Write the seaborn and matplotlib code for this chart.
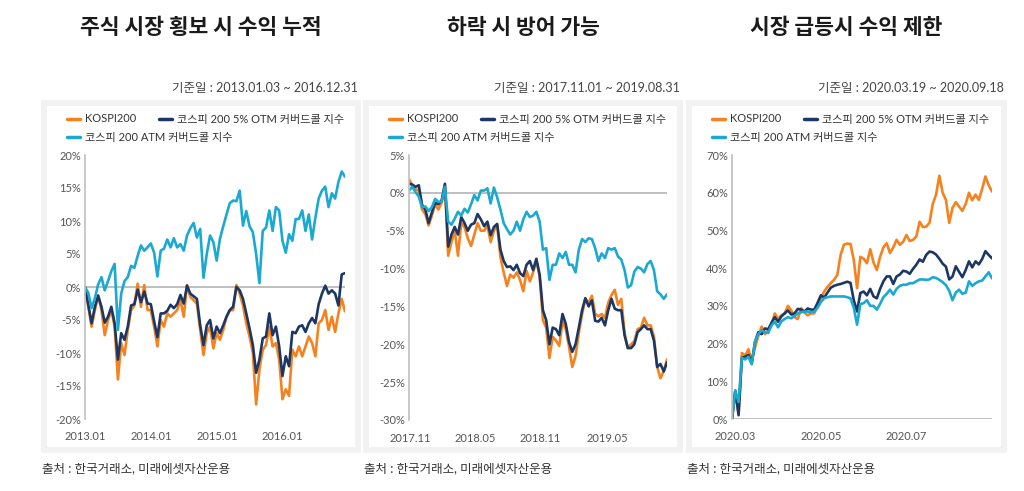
"""Covered call index vs KOSPI200 - three market regimes."""

import matplotlib.pyplot as plt
import numpy as np
import pandas as pd
import seaborn as sns
from matplotlib.lines import Line2D
from matplotlib.patches import Rectangle
from matplotlib.ticker import FuncFormatter

# ---- data (cumulative return, %) ----
series_names = ["KOSPI200", "코스피 200 5% OTM 커버드콜 지수", "코스피 200 ATM 커버드콜 지수"]

p1_kospi = [0, -3.0, -6.0, -3.5, -1.3, -3.5, -7.3, -5.0, -3.5, -6.0,
            -14.0, -8.5, -10.3, -6.5, -3.5, -2.8, 0.5, -3.0, 0.3, -3.5,
            -3.5, -6.0, -9.0, -5.0, -6.0, -4.0, -4.5, -4.0, -3.5, -2.0,
            -4.5, 0.3, -1.5, -2.0, -2.5, -6.5, -10.3, -7.0, -6.0, -9.3,
            -7.0, -8.0, -6.5, -4.5, -3.5, -3.5, 0.3, -1.0, -2.8, -5.5,
            -7.5, -10.0, -17.8, -12.5, -9.5, -8.8, -6.0, -9.0, -8.5, -11.0,
            -17.0, -15.5, -16.5, -9.5, -10.5, -9.0, -10.5, -9.0, -7.5, -8.5,
            -10.5, -5.5, -5.0, -3.5, -6.5, -4.5, -6.8, -4.0, -1.8, -3.7]
p1_otm = [0, -2.7, -5.5, -3.0, -1.3, -3.0, -5.4, -4.5, -3.0, -5.5,
          -11.0, -7.0, -8.0, -6.0, -2.8, -2.6, -0.4, -2.3, -0.7, -2.5,
          -2.6, -5.2, -7.6, -4.0, -4.0, -3.6, -2.7, -3.2, -2.6, -1.2,
          -2.5, 0.2, -1.0, -1.4, -1.8, -5.8, -8.8, -5.8, -5.0, -7.8,
          -6.0, -7.0, -5.8, -4.5, -3.5, -3.0, 0.0, -0.5, -1.8, -4.0,
          -6.3, -8.8, -13.0, -11.0, -7.8, -7.5, -4.0, -7.3, -6.0, -9.0,
          -13.5, -10.5, -12.0, -6.8, -7.0, -6.0, -5.8, -6.8, -5.5, -4.7,
          -5.5, -2.6, -1.0, 0.2, -1.0, -0.5, -1.0, -2.8, 1.9, 2.1]
p1_atm = [0, -0.9, -3.2, -1.7, 0.4, 1.5, -0.5, 0.9, 2.4, 3.5,
          -6.5, -1.0, 0.9, 1.5, 3.2, 2.9, 4.7, 6.3, 5.5, 6.0,
          6.6, 5.2, 1.6, 5.5, 5.8, 7.2, 6.0, 7.4, 6.0, 6.5,
          5.5, 7.8, 8.9, 9.7, 7.5, 8.8, 1.4, 5.0, 7.8, 6.8,
          4.0, 7.3, 9.2, 11.0, 12.7, 13.1, 13.0, 14.6, 9.3, 11.5,
          9.2, 8.3, 5.0, 0.6, 8.5, 9.0, 11.6, 8.5, 12.1, 11.6,
          7.0, 5.2, 8.0, 7.0, 10.3, 10.3, 11.6, 8.5, 11.0, 7.2,
          10.5, 13.4, 14.6, 15.2, 12.1, 14.2, 13.4, 15.9, 17.5, 16.7]

p2_kospi = [1.8, 1.0, 0.5, 0.3, -2.2, -2.8, -4.3, -3.0, -1.5, -2.2,
            -1.3, 1.0, -8.3, -6.5, -5.0, -8.3, -4.0, -4.5, -6.0, -7.0,
            -5.5, -4.0, -5.0, -5.0, -4.3, -6.5, -5.0, -4.3, -8.5, -10.5,
            -12.3, -10.8, -11.2, -10.5, -11.5, -13.0, -10.3, -11.7, -10.5, -9.0,
            -11.0, -16.8, -17.8, -21.8, -19.0, -19.5, -20.2, -17.0, -18.0, -20.3,
            -23.0, -21.5, -18.5, -16.0, -14.0, -14.5, -13.6, -16.0, -16.3, -16.0,
            -16.5, -14.5, -13.5, -12.8, -14.8, -14.0, -18.5, -20.5, -20.0, -19.6,
            -18.0, -17.8, -16.5, -17.5, -17.5, -19.0, -23.0, -24.5, -23.5, -22.0]
p2_otm = [1.2, 1.1, 0.8, 1.0, -1.6, -2.2, -4.0, -2.6, -1.3, -1.5,
          -1.0, 1.2, -7.1, -5.5, -4.5, -5.5, -3.2, -4.0, -5.0, -4.2,
          -4.0, -2.8, -3.5, -4.4, -3.8, -5.6, -4.5, -4.1, -7.5, -9.0,
          -9.8, -9.7, -10.2, -9.5, -10.6, -11.0, -9.5, -9.0, -10.2, -8.7,
          -10.8, -15.5, -16.8, -20.0, -17.8, -18.0, -18.8, -16.0, -17.3, -19.7,
          -21.0, -20.0, -17.8, -15.5, -13.9, -15.0, -14.2, -16.9, -17.0, -16.5,
          -17.5, -15.5, -14.0, -15.3, -15.5, -15.5, -18.8, -20.5, -20.5, -20.0,
          -18.4, -18.0, -17.5, -18.0, -18.0, -19.5, -23.0, -22.6, -23.6, -22.4]
p2_atm = [0.3, 0.8, 0.1, -0.5, -1.9, -1.8, -2.4, -1.9, -0.8, -1.2,
          -1.2, 0.8, -3.8, -4.2, -3.4, -2.5, -3.0, -2.1, -2.6, -1.5,
          -0.3, -1.0, 0.3, 0.3, 0.6, -1.4, 0.7, -0.6, -2.2, -4.0,
          -4.8, -5.5, -5.0, -3.8, -5.0, -3.5, -2.5, -3.2, -3.0, -2.5,
          -3.8, -7.5, -7.3, -11.5, -9.5, -9.5, -8.0, -8.6, -7.8, -9.5,
          -9.5, -10.5, -7.5, -6.1, -6.5, -6.0, -6.1, -7.3, -9.0, -8.0,
          -8.6, -7.3, -7.5, -7.3, -8.4, -8.8, -10.2, -12.5, -12.2, -10.4,
          -9.8, -10.0, -10.5, -9.4, -9.0, -10.2, -13.0, -13.4, -14.0, -13.4]

p3_kospi = [0, 7.5, 1.5, 17.5, 16.8, 18.5, 15.5, 19.0, 22.0, 24.5,
            22.5, 23.5, 25.0, 28.0, 26.5, 27.5, 28.0, 30.0, 28.8, 27.0,
            26.5, 29.4, 28.2, 27.5, 28.0, 28.0, 30.0, 32.0, 33.8, 35.0,
            36.0, 36.9, 38.2, 43.5, 46.2, 46.5, 46.4, 42.2, 34.7, 43.0,
            42.5, 41.3, 45.0, 41.5, 39.5, 43.0, 45.5, 46.6, 44.0, 45.5,
            47.5, 46.2, 47.0, 48.8, 47.2, 47.5, 48.4, 52.3, 50.9, 51.0,
            52.0, 57.0, 59.5, 64.5, 60.0, 58.1, 52.0, 56.0, 57.5, 56.3,
            55.2, 57.0, 60.0, 58.0, 59.5, 58.1, 61.0, 64.3, 62.0, 60.3]
p3_otm = [0, 7.5, 1.0, 16.2, 16.5, 17.0, 14.8, 20.5, 23.0, 22.5,
          24.0, 23.8, 25.5, 27.0, 25.8, 27.2, 28.0, 28.8, 27.7, 28.0,
          29.2, 29.0, 28.5, 29.3, 29.0, 29.0, 30.8, 32.8, 32.2, 33.5,
          34.8, 35.3, 35.6, 35.8, 36.1, 36.4, 36.1, 31.5, 28.5, 33.4,
          33.8, 32.8, 34.5, 32.5, 32.0, 34.5, 36.5, 37.8, 37.8, 35.8,
          37.8, 38.3, 39.3, 39.1, 38.5, 39.8, 40.9, 42.3, 41.7, 43.5,
          44.4, 44.2, 43.6, 42.5, 41.2, 40.4, 37.0, 37.8, 40.5, 39.0,
          37.6, 39.5, 41.8, 40.2, 41.8, 41.0, 42.4, 44.5, 43.5, 42.6]
p3_atm = [0, 7.5, 4.5, 16.2, 15.8, 16.5, 14.5, 20.5, 22.5, 23.5,
          23.0, 22.8, 24.8, 25.8, 24.3, 25.9, 26.5, 27.0, 26.7, 27.3,
          28.0, 28.3, 28.5, 28.5, 28.3, 28.5, 29.5, 31.0, 32.0, 32.3,
          32.5, 32.5, 32.5, 32.5, 32.5, 32.3, 32.0, 29.5, 25.0, 30.5,
          30.7, 31.5, 30.0, 30.0, 29.0, 30.5, 32.3, 33.2, 34.3, 33.0,
          34.5, 35.3, 35.6, 35.6, 36.0, 36.0, 36.5, 37.0, 37.0, 36.9,
          37.0, 37.6, 37.4, 36.9, 36.3, 35.5, 34.0, 31.5, 33.5, 34.3,
          33.2, 33.5, 36.5, 35.3, 36.0, 36.5, 36.7, 37.8, 38.9, 37.3]

titles = ["주식 시장 횡보 시 수익 누적", "하락 시 방어 가능", "시장 급등시 수익 제한"]
periods = ["기준일 : 2013.01.03 ~ 2016.12.31",
           "기준일 : 2017.11.01 ~ 2019.08.31",
           "기준일 : 2020.03.19 ~ 2020.09.18"]
source_text = "출처 : 한국거래소, 미래에셋자산운용"
x_labels = [["2013.01", "2014.01", "2015.01", "2016.01"],
            ["2017.11", "2018.05", "2018.11", "2019.05"],
            ["2020.03", "2020.05", "2020.07"]]

# ---- layout (pixels) ----
W, H = 1024, 491
colors = ["#f5821f", "#1c3764", "#1ba9d2"]
frames = [(41, 100, 361, 453), (363, 100, 683, 453), (686, 100, 1007, 453)]
ax_boxes = [(85, 155, 345, 419), (409, 155, 667, 420), (732, 155, 992, 419)]
y_ranges = [(-20, 20, 5), (-30, 5, 5), (0, 70, 10)]
x_tick_pos = [[0, 20, 40.2, 60], [0.4, 20.4, 40.1, 60.6], [1, 27, 53]]

sns.set_style("white")
plt.rcParams["font.family"] = ["Lato", "Noto Sans CJK KR", "DejaVu Sans"]
plt.rcParams["axes.unicode_minus"] = False


def fig_box(x0, y0, x1, y1):
    return [x0 / W, 1 - y1 / H, (x1 - x0) / W, (y1 - y0) / H]


fig = plt.figure(figsize=(W / 100, H / 100), dpi=100)
fig.patch.set_facecolor("white")

panels = [
    (p1_kospi, p1_otm, p1_atm),
    (p2_kospi, p2_otm, p2_atm),
    (p3_kospi, p3_otm, p3_atm),
]

for k, (kospi, otm, atm) in enumerate(panels):
    fx0, fy0, fx1, fy1 = frames[k]
    # grey card with white inside (drawn below the axes)
    fig.patches.append(Rectangle((fx0 / W, 1 - fy1 / H), (fx1 - fx0) / W, (fy1 - fy0) / H,
                                 transform=fig.transFigure, facecolor="#f2f2f2", edgecolor="none", zorder=-2))
    b = 6
    fig.patches.append(Rectangle(((fx0 + b) / W, 1 - (fy1 - b) / H), (fx1 - fx0 - 2 * b) / W, (fy1 - fy0 - 2 * b) / H,
                                 transform=fig.transFigure, facecolor="white", edgecolor="none", zorder=-1))

    cx = (fx0 + fx1) / 2
    fig.text(cx / W, 1 - 28 / H, titles[k], ha="center", va="center", fontsize=15.5,
             fontweight="bold", color="#1a1a1a", family=["Noto Sans CJK KR"])
    fig.text((fx1 - 3) / W, 1 - 88 / H, periods[k], ha="right", va="center", fontsize=9, color="#444444")
    fig.text((fx0 + 1) / W, 1 - 468 / H, source_text, ha="left", va="center", fontsize=9, color="#333333")

    n = len(kospi)
    df = pd.DataFrame({
        "idx": np.tile(np.arange(n), 3),
        "value": np.concatenate([kospi, otm, atm]),
        "series": np.repeat(series_names, n),
    })

    ax = fig.add_axes(fig_box(*ax_boxes[k]))
    ax.set_facecolor("none")
    sns.lineplot(data=df, x="idx", y="value", hue="series", palette=colors,
                 hue_order=series_names, ax=ax, legend=False, linewidth=1.9)

    ymin, ymax, step = y_ranges[k]
    ax.axhline(0, color="#bfbfbf", linewidth=1.4, zorder=0)
    ax.set_xlim(0, n - 1)
    ax.set_ylim(ymin, ymax)
    ax.set_yticks(np.arange(ymin, ymax + 0.1, step))
    ax.yaxis.set_major_formatter(FuncFormatter(lambda v, _: f"{v:.0f}%"))
    ax.set_xticks(x_tick_pos[k])
    ax.set_xticklabels(x_labels[k])
    ax.tick_params(axis="both", length=0, labelsize=8, labelcolor="#555555")
    ax.tick_params(axis="x", pad=9)
    ax.tick_params(axis="y", pad=3)
    ax.set_xlabel("")
    ax.set_ylabel("")
    for side in ["top", "right", "bottom"]:
        ax.spines[side].set_visible(False)
    ax.spines["left"].set_color("#bfbfbf")
    ax.spines["left"].set_linewidth(1.2)

    handles = [Line2D([], [], color=c, linewidth=2.5) for c in colors]
    leg_kw = dict(frameon=False, fontsize=8, handlelength=1.2, handletextpad=0.45,
                  borderpad=0, borderaxespad=0, columnspacing=2.0, loc="center left",
                  bbox_transform=fig.transFigure, labelcolor="#333333")
    fig.legend(handles[:2], series_names[:2], ncol=2,
               bbox_to_anchor=((fx0 + 26) / W, 1 - 119 / H), **leg_kw)
    fig.legend(handles[2:], series_names[2:], ncol=1,
               bbox_to_anchor=((fx0 + 26) / W, 1 - 137 / H), **leg_kw)

fig.savefig("out.png", dpi=100)
